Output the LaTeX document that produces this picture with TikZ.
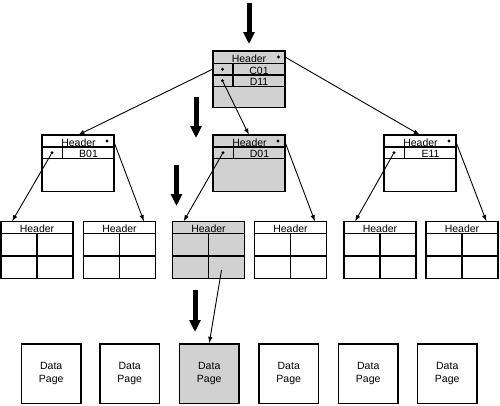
\documentclass[tikz,border=0pt]{standalone}
\usepackage{fontspec}
\setmainfont{Liberation Sans}
\usetikzlibrary{arrows.meta}
\definecolor{Shade}{HTML}{D1D1D1}
\definecolor{Ink}{HTML}{000000}

\begin{document}
\begin{tikzpicture}[x=1pt,y=-1pt,
  cell/.style={draw=Ink,line width=1.3pt},
  link/.style={draw=Ink,line width=0.9pt,-{Latex[length=6.5pt,width=4.5pt]}},
  push/.style={draw=Ink,line width=5pt,-{Triangle[length=12pt,width=11pt]}},
  ptr/.style={circle,fill=Ink,inner sep=0pt,minimum size=3.2pt},
  txt/.style={font=\fontsize{10.5}{11}\selectfont,inner sep=0pt,anchor=base},
  page/.style={draw=Ink,line width=1.3pt,minimum width=59.5pt,minimum height=59.5pt,
    align=center,inner sep=0pt,font=\fontsize{10.5}{12.6}\selectfont}]
  \useasboundingbox (0,0) rectangle (500,405);
  % root index page
  \draw[cell,fill=Shade] (213,51) rectangle (285,107.5);
  \draw[cell] (213,63.5) -- (285,63.5) (213,75) -- (285,75) (213,86.5) -- (285,86.5)
    (233,63.5) -- (233,86.5);
  \node[txt] (root-hdr) at (249,62.5) {Header};
  \node[txt] (root-key1) at (259,74) {C01};
  \node[txt] (root-key2) at (259,85.5) {D11};
  \node[ptr] (root-dot) at (278.5,57) {};
  \node[ptr] (root-ptr1) at (222.5,69.2) {};
  \node[ptr] (root-ptr2) at (222.5,80.7) {};
  \coordinate (root-out) at (285,57);
  \coordinate (root-in) at (213,69);
  % intermediate index pages
  \foreach \n/\x/\key/\fc in {left/42/B01/white,mid/213/D01/Shade,right/384/E11/white} {
    \draw[cell,fill=\fc] (\x,135) rectangle ++(72,56.5);
    \draw[cell] (\x,147) -- ++(72,0) (\x,158.3) -- ++(72,0) (\x+20.5,147) -- (\x+20.5,158.3);
    \node[txt] (\n-hdr) at (\x+36.5,146) {Header};
    \node[txt] (\n-key) at (\x+46.5,157.3) {\key};
    \node[ptr] (\n-dot) at (\x+65,141) {};
    \node[ptr] (\n-ptr) at (\x+10,152.7) {};
    \coordinate (\n-top) at (\x+36,135);
    \coordinate (\n-out) at (\x+72,142);
  }
  % leaf index pages
  \foreach \n/\x/\fc in {1/1/white,2/83.5/white,3/172.5/Shade,4/254.5/white,5/344/white,6/426/white} {
    \draw[cell,fill=\fc] (\x,221.5) rectangle ++(72,57);
    \draw[cell] (\x,233.5) -- ++(72,0) (\x,256) -- ++(72,0) (\x+36,233.5) -- (\x+36,278.5);
    \node[txt] (leaf\n-hdr) at (\x+36,232.5) {Header};
    \coordinate (leaf\n-a) at (\x+11,221.5);
    \coordinate (leaf\n-b) at (\x+60.5,221.5);
  }
  \coordinate (leaf3-ptr) at (221.5,270);
  % data pages
  \foreach \i/\x/\fc in {1/51.25/white,2/129.75/white,3/209.25/Shade,4/288.75/white,5/368.25/white,6/447.25/white}
    \node[page,fill=\fc] (page\i) at (\x,373.75) {Data\\Page};
  % pointers
  \draw[link] (root-in) -- (left-top);
  \draw[link] (root-ptr2) -- (mid-top);
  \draw[link] (root-out) -- (right-top);
  \draw[link] (left-ptr) -- (leaf1-a);
  \draw[link] (left-out) -- (leaf2-b);
  \draw[link] (mid-ptr) -- (leaf3-a);
  \draw[link] (mid-out) -- (leaf4-b);
  \draw[link] (right-ptr) -- (leaf5-a);
  \draw[link] (right-out) -- (leaf6-b);
  \draw[link] (leaf3-ptr) -- (page3.north);
  % search path
  \foreach \i/\x/\ya/\yb in {1/249/2.5/44,2/196/97/138,3/176.5/165/206,4/195/290/332} {
    \coordinate (push\i-s) at (\x,\ya);
    \coordinate (push\i-e) at (\x,\yb);
    \draw[push] (push\i-s) -- (push\i-e);
  }
\end{tikzpicture}
\end{document}
